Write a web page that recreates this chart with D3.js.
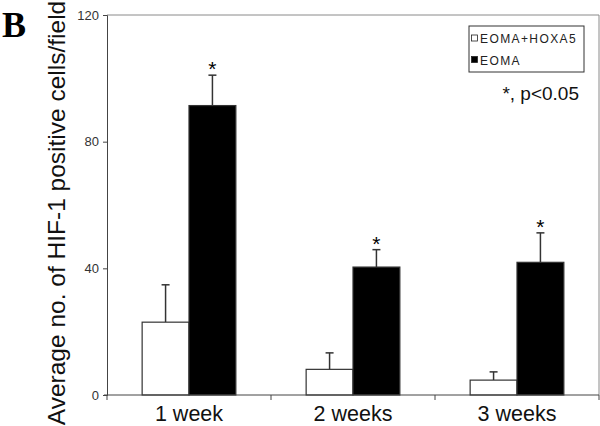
<!DOCTYPE html>
<html><head><meta charset="utf-8">
<script src="https://cdn.jsdelivr.net/npm/d3@7"></script>
<style>body{margin:0;background:#fff}svg{display:block}</style>
</head><body><div id="chart"></div>
<script>
const categories = ["1 week", "2 weeks", "3 weeks"];
const seriesNames = ["EOMA+HOXA5", "EOMA"];
const hoxaValues = [23.0, 8.1, 4.7];
const hoxaErrors = [11.8, 5.2, 2.6];
const eomaValues = [91.4, 40.4, 41.9];
const eomaErrors = [9.6, 5.5, 9.3];
const significant = [true, true, true];
const yTicks = [0, 40, 80, 120];

(function () {
const W = 600, H = 426;
const pL = 107, pR = 599, pT = 15, pB = 395;
const svg = d3.select("#chart").append("svg").attr("width", W).attr("height", H);

const x = d3.scaleBand().domain(categories).range([pL, pR]);
const sub = d3.scaleBand().domain(seriesNames).range([0, x.bandwidth()]).paddingInner(0).paddingOuter(0.75);
const y = d3.scaleLinear().domain([0, 120]).range([pB, pT]);

// frame (top/right)
svg.append("path").attr("d", `M${pL},${pT}H${pR}V${pB}`)
  .attr("fill", "none").attr("stroke", "#8a8a8a").attr("stroke-width", 1);

const data = categories.map((c, i) => ({
  cat: c,
  bars: [
    {s: seriesNames[0], v: hoxaValues[i], e: hoxaErrors[i]},
    {s: seriesNames[1], v: eomaValues[i], e: eomaErrors[i]}
  ],
  sig: significant[i]
}));

const g = svg.selectAll("g.grp").data(data).enter().append("g")
  .attr("transform", d => `translate(${x(d.cat)},0)`);

// error bars (upward only)
g.selectAll("line.err").data(d => d.bars).enter().append("line")
  .attr("x1", d => sub(d.s) + sub.bandwidth()/2).attr("x2", d => sub(d.s) + sub.bandwidth()/2)
  .attr("y1", d => y(d.v)).attr("y2", d => y(d.v + d.e))
  .attr("stroke", "#333").attr("stroke-width", 1.5);
g.selectAll("line.cap").data(d => d.bars).enter().append("line")
  .attr("x1", d => sub(d.s) + sub.bandwidth()/2 - 4).attr("x2", d => sub(d.s) + sub.bandwidth()/2 + 4)
  .attr("y1", d => y(d.v + d.e)).attr("y2", d => y(d.v + d.e))
  .attr("stroke", "#333").attr("stroke-width", 1.5);

g.selectAll("rect").data(d => d.bars).enter().append("rect")
  .attr("x", d => sub(d.s)).attr("width", sub.bandwidth())
  .attr("y", d => y(d.v)).attr("height", d => y(0) - y(d.v))
  .attr("fill", d => d.s === seriesNames[0] ? "#fff" : "#000")
  .attr("stroke", "#333").attr("stroke-width", 1.2);

// significance stars
g.filter(d => d.sig).append("text")
  .attr("x", d => sub(seriesNames[1]) + sub.bandwidth()/2)
  .attr("y", d => y(d.bars[1].v + d.bars[1].e) + 1)
  .attr("text-anchor", "middle")
  .attr("font-family", "Liberation Sans, Arial, sans-serif").attr("font-size", 21)
  .text("*");

// y axis
const yAxis = d3.axisLeft(y).tickValues(yTicks).tickSize(4).tickPadding(4);
const ya = svg.append("g").attr("transform", `translate(${pL},0)`).call(yAxis);
ya.select(".domain").attr("stroke", "#444");
ya.selectAll(".tick line").attr("stroke", "#444");
ya.selectAll(".tick text").attr("font-family", "Liberation Sans Narrow, Liberation Sans, Arial, sans-serif")
  .attr("font-size", 13).attr("fill", "#333");

// x axis
const xAxis = d3.axisBottom(x).tickSize(0).tickPadding(11).tickSizeOuter(0);
const xa = svg.append("g").attr("transform", `translate(0,${pB})`).call(xAxis);
xa.select(".domain").attr("stroke", "#444").attr("d", `M${pL-3},0H${pR}`);
xa.selectAll(".tick text").attr("font-family", "Liberation Sans, Arial, sans-serif")
  .attr("font-size", 21.5).attr("fill", "#111").attr("dy", "0.71em");
// category boundary ticks
const bounds = categories.map(c => x(c)).concat([pR]);
xa.selectAll("line.bt").data(bounds).enter().append("line")
  .attr("x1", d => d).attr("x2", d => d).attr("y1", 0).attr("y2", 5)
  .attr("stroke", "#444");

// y label
svg.append("text")
  .attr("transform", "translate(65,213) rotate(-90)")
  .attr("text-anchor", "middle")
  .attr("font-family", "Liberation Sans, Arial, sans-serif").attr("font-size", 24.5)
  .attr("fill", "#111")
  .text("Average no. of HIF-1 positive cells/field");

// panel letter
svg.append("text").attr("x", 2).attr("y", 37)
  .attr("font-family", "Liberation Serif, Times New Roman, serif").attr("font-weight", "bold")
  .attr("font-size", 36).text("B");

// legend
const lg = svg.append("g");
lg.append("rect").attr("x", 469).attr("y", 26).attr("width", 115).attr("height", 46)
  .attr("fill", "#fff").attr("stroke", "#333").attr("stroke-width", 1);
seriesNames.forEach((s, i) => {
  const cy = 38.5 + i * 21.5;
  lg.append("rect").attr("x", 471.5).attr("y", cy - 3.5).attr("width", 6).attr("height", 6)
    .attr("fill", i === 0 ? "#fff" : "#000").attr("stroke", "#222").attr("stroke-width", 0.8);
  lg.append("text").attr("x", 480).attr("y", cy + 4.5)
    .attr("font-family", "Liberation Sans, Arial, sans-serif").attr("font-size", 12)
    .attr("letter-spacing", 1.4).attr("fill", "#222").text(s);
});
svg.append("text").attr("x", 579).attr("y", 100).attr("text-anchor", "end")
  .attr("font-family", "Liberation Sans, Arial, sans-serif").attr("font-size", 19)
  .attr("fill", "#111").text("*, p<0.05");
})();
</script></body></html>
